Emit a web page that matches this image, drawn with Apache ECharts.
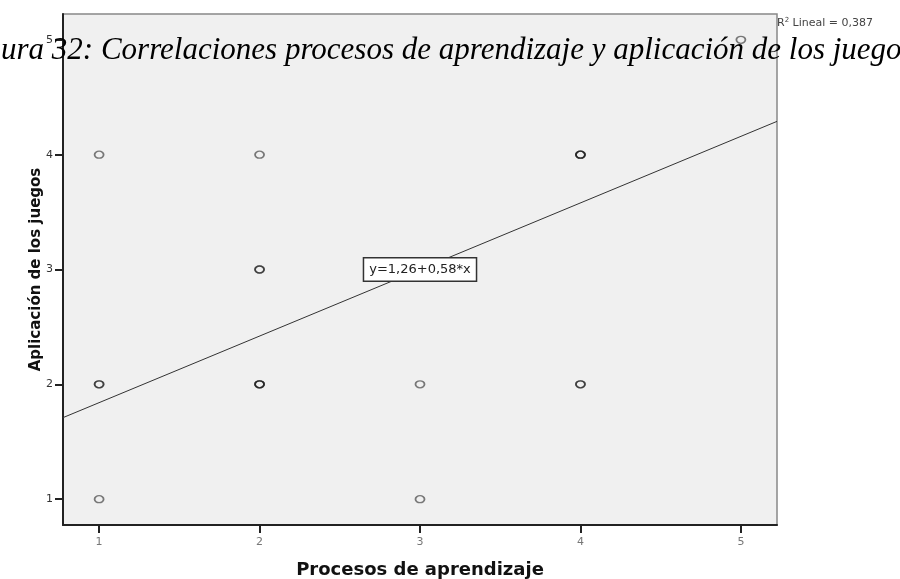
<!DOCTYPE html>
<html>
<head>
<meta charset="utf-8">
<script src="https://cdn.jsdelivr.net/npm/echarts@6/dist/echarts.min.js"></script>
<style>html,body{margin:0;padding:0;background:#fff;}#c{width:900px;height:579px;}</style>
</head>
<body>
<div id="c"></div>
<script>
const pointsX = [1, 2, 4, 4, 4, 2, 2, 1, 1, 2, 2, 2, 3, 4, 4, 1, 3, 5];
const pointsY = [4, 4, 4, 4, 4, 3, 3, 2, 2, 2, 2, 2, 2, 2, 2, 1, 1, 5];
const fitLineX = [0.775, 5.225];
const fitLineY = [1.71, 4.29];
const tickValues = [1, 2, 3, 4, 5];
const equationText = 'y=1,26+0,58*x';
const equationAt = [3, 3];
const r2Text = '0,387';
const xTitle = 'Procesos de aprendizaje';
const yTitle = 'Aplicación de los juegos';
const figTitle = 'Figura 32: Correlaciones procesos de aprendizaje y aplicación de los juegos';

const chart = echarts.init(document.getElementById('c'), null, {renderer: 'canvas'});
const scatterData = pointsX.map((x, i) => [x, pointsY[i]]);
const lineData = fitLineX.map((x, i) => [x, fitLineY[i]]);

const axisCommon = {
  type: 'value',
  min: 0.775,
  max: 5.225,
  splitLine: {show: false},
  axisLine: {show: true, onZero: false, lineStyle: {color: '#222', width: 2}},
  axisTick: {show: true, customValues: tickValues, length: 8, lineStyle: {color: '#222', width: 2}},
  axisLabel: {customValues: tickValues, color: '#777', fontFamily: 'DejaVu Sans', fontSize: 11}
};

chart.setOption({
  animation: false,
  backgroundColor: '#fff',
  grid: {left: 63, top: 14, width: 714, height: 511, show: true, backgroundColor: '#f0f0f0', borderColor: '#888', borderWidth: 1.5, containLabel: false, outerBoundsMode: 'none'},
  xAxis: Object.assign({}, axisCommon, {
    name: xTitle, nameLocation: 'middle', nameGap: 36, nameMoveOverlap: false,
    nameTextStyle: {fontFamily: 'DejaVu Sans', fontWeight: 'bold', fontSize: 18, color: '#111'},
    axisLabel: Object.assign({}, axisCommon.axisLabel, {margin: 12})
  }),
  yAxis: Object.assign({}, axisCommon, {
    name: yTitle, nameLocation: 'middle', nameGap: 19, nameRotate: 90, nameMoveOverlap: false,
    nameTextStyle: {fontFamily: 'DejaVu Sans', fontWeight: 'bold', fontSize: 15, color: '#111'},
    axisLabel: Object.assign({}, axisCommon.axisLabel, {margin: 10, color: '#333'})
  }),
  series: [
    {
      type: 'line',
      data: lineData,
      showSymbol: false,
      symbol: 'none',
      clip: true,
      lineStyle: {color: '#333', width: 1},
      z: 2,
      markPoint: {
        symbol: 'rect', symbolSize: 0,
        data: [{coord: equationAt}],
        label: {
          show: true, position: 'inside', formatter: equationText,
          fontFamily: 'DejaVu Sans', fontSize: 13, color: '#222',
          backgroundColor: '#fff', borderColor: '#333', borderWidth: 1.5,
          padding: [5, 5, 4, 5]
        }
      }
    },
    {
      type: 'scatter',
      data: scatterData,
      symbol: 'circle',
      symbolSize: [9, 7],
      itemStyle: {color: 'rgba(0,0,0,0)', borderColor: 'rgba(20,20,20,0.55)', borderWidth: 1.6, opacity: 1},
      z: 3
    }
  ],
  graphic: [
    {
      type: 'text', left: 777, top: 17, z: 10,
      style: {
        text: '{b|R}{s|2}{b| Lineal = ' + r2Text + '}',
        rich: {
          b: {fontFamily: 'DejaVu Sans', fontSize: 11, fill: '#444'},
          s: {fontFamily: 'DejaVu Sans', fontSize: 7, fill: '#444', verticalAlign: 'top', padding: [0, 0, 5, 0]}
        }
      }
    },
    {
      type: 'text', x: -42, y: 51, z: 20,
      style: {
        text: figTitle, fill: '#000',
        font: 'italic 31px "Liberation Serif", "Times New Roman", serif',
        textVerticalAlign: 'middle'
      }
    }
  ]
});
</script>
</body>
</html>
